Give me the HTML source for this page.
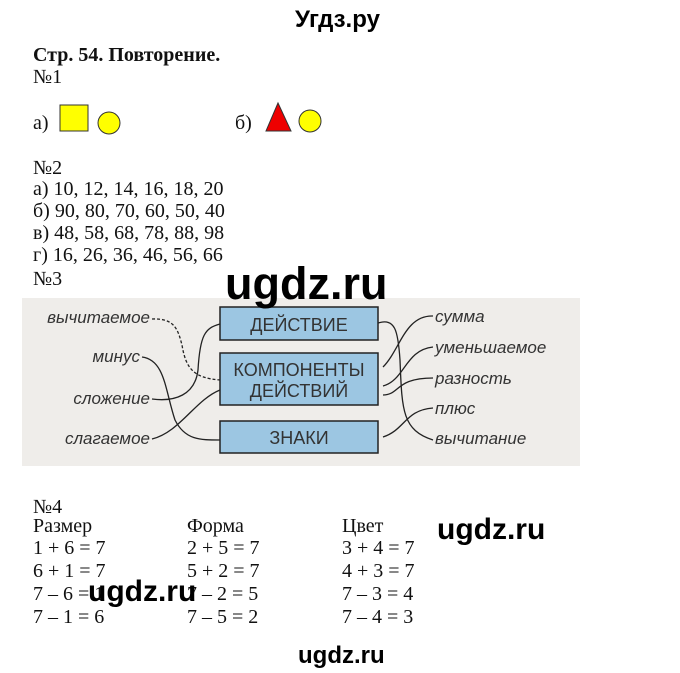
<!DOCTYPE html>
<html><head><meta charset="utf-8"><style>
body{margin:0;width:680px;height:673px;background:#fff;position:relative;overflow:hidden;font-family:"Liberation Serif",serif;font-size:20px;color:#111}
.t{position:absolute;white-space:nowrap;line-height:22px}
.w{position:absolute;font-family:"Liberation Sans",sans-serif;font-weight:bold;color:#000;white-space:nowrap}
</style></head><body>
<div class="w" style="left:295px;top:6px;font-size:24px">Угдз.ру</div>
<div class="t" style="left:33px;top:44px;font-weight:bold">Стр. 54. Повторение.</div>
<div class="t" style="left:33px;top:66px">№1</div>
<div class="t" style="left:33px;top:112px">а)</div>
<div class="t" style="left:235px;top:112px">б)</div>
<svg style="position:absolute;left:0;top:0" width="680" height="673">
<rect x="60" y="105" width="28" height="26" fill="#ffff00" stroke="#333"/>
<circle cx="109" cy="123" r="11" fill="#ffff00" stroke="#333"/>
<polygon points="278,103 266,131 291,131" fill="#ee0000" stroke="#333"/>
<circle cx="310" cy="121" r="11" fill="#ffff00" stroke="#333"/>
</svg>
<div class="t" style="left:33px;top:157px">№2</div>
<div class="t" style="left:33px;top:178px">а) 10, 12, 14, 16, 18, 20</div>
<div class="t" style="left:33px;top:200px">б) 90, 80, 70, 60, 50, 40</div>
<div class="t" style="left:33px;top:222px">в) 48, 58, 68, 78, 88, 98</div>
<div class="t" style="left:33px;top:244px">г) 16, 26, 36, 46, 56, 66</div>
<div class="t" style="left:33px;top:268px">№3</div>
<svg style="position:absolute;left:0;top:0" width="680" height="673" font-family="Liberation Sans, sans-serif" font-style="italic" font-size="17" fill="#333">
<rect x="22" y="298" width="558" height="168" fill="#efedea"/>
<g fill="#9cc6e2" stroke="#222" stroke-width="1.5">
<rect x="220" y="307" width="158" height="33"/>
<rect x="220" y="353" width="158" height="52"/>
<rect x="220" y="421" width="158" height="32"/>
</g>
<g font-style="normal" font-size="18" text-anchor="middle" fill="#333">
<text x="299" y="331">ДЕЙСТВИЕ</text>
<text x="299" y="376">КОМПОНЕНТЫ</text>
<text x="299" y="397">ДЕЙСТВИЙ</text>
<text x="299" y="444">ЗНАКИ</text>
</g>
<g text-anchor="end">
<text x="150" y="323">вычитаемое</text>
<text x="140" y="362">минус</text>
<text x="150" y="404">сложение</text>
<text x="150" y="444">слагаемое</text>
</g>
<text x="435" y="322">сумма</text>
<text x="435" y="353">уменьшаемое</text>
<text x="435" y="384">разность</text>
<text x="435" y="414">плюс</text>
<text x="435" y="444">вычитание</text>
<g fill="none" stroke="#222" stroke-width="1.3">
<path d="M152,319 C175,318 178,330 182,345 C186,370 195,378 220,380" stroke-dasharray="3,2"/>
<path d="M142,357 C165,360 165,390 175,420 C185,440 200,440 220,440"/>
<path d="M152,399 C175,402 195,395 198,370 C200,335 205,328 220,324"/>
<path d="M152,439 C180,432 195,400 220,390"/>
<path d="M378,323 C395,318 398,330 400,360 C402,410 402,430 433,440"/>
<path d="M383,367 C400,350 405,315 433,316"/>
<path d="M383,386 C405,380 405,350 433,347"/>
<path d="M383,395 C400,395 395,378 433,378"/>
<path d="M383,437 C405,430 405,410 433,408"/>
</g>
</svg>
<div class="w" style="left:225px;top:258px;font-size:45px">ugdz.ru</div>
<div class="t" style="left:33px;top:496px">№4</div>
<div class="t" style="left:33px;top:515px">Размер</div>
<div class="t" style="left:187px;top:515px">Форма</div>
<div class="t" style="left:342px;top:515px">Цвет</div>
<div class="t" style="left:33px;top:537px">1 + 6 = 7</div>
<div class="t" style="left:33px;top:560px">6 + 1 = 7</div>
<div class="t" style="left:33px;top:583px">7 – 6 = 1</div>
<div class="t" style="left:33px;top:606px">7 – 1 = 6</div>
<div class="t" style="left:187px;top:537px">2 + 5 = 7</div>
<div class="t" style="left:187px;top:560px">5 + 2 = 7</div>
<div class="t" style="left:187px;top:583px">7 – 2 = 5</div>
<div class="t" style="left:187px;top:606px">7 – 5 = 2</div>
<div class="t" style="left:342px;top:537px">3 + 4 = 7</div>
<div class="t" style="left:342px;top:560px">4 + 3 = 7</div>
<div class="t" style="left:342px;top:583px">7 – 3 = 4</div>
<div class="t" style="left:342px;top:606px">7 – 4 = 3</div>
<div class="w" style="left:437px;top:513px;font-size:30px">ugdz.ru</div>
<div class="w" style="left:88px;top:575px;font-size:30px">ugdz.ru</div>
<div class="w" style="left:298px;top:642px;font-size:24px">ugdz.ru</div>
</body></html>
